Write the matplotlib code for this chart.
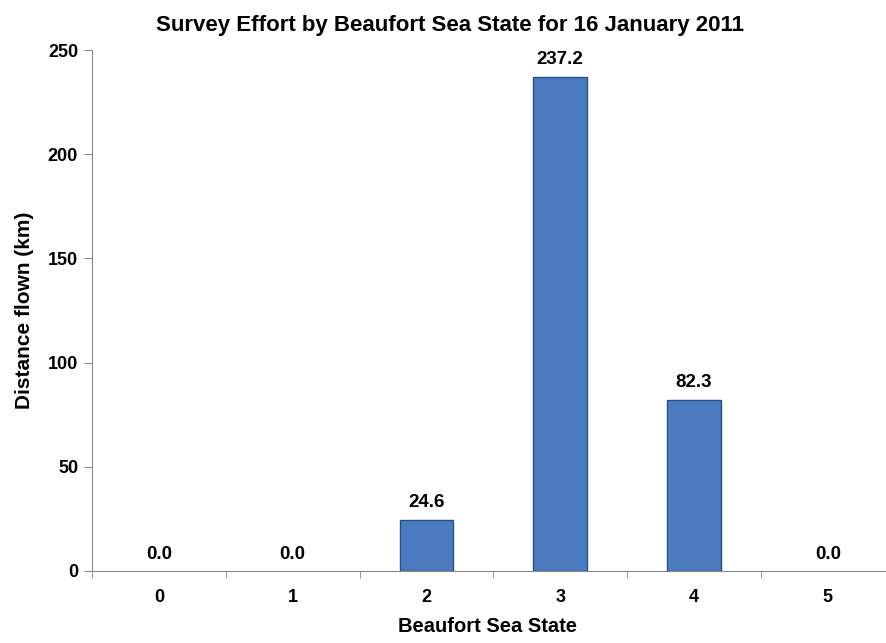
import numpy as np
import matplotlib
matplotlib.use('Agg')
import matplotlib.pyplot as plt

plt.rcParams['font.family'] = ['Liberation Sans', 'DejaVu Sans']
plt.rcParams['font.weight'] = 'bold'

states = ['0', '1', '2', '3', '4', '5']
distance = [0.0, 0.0, 24.6, 237.2, 82.3, 0.0]

fig = plt.figure(figsize=(8.86, 6.43), dpi=100)
# the original axis runs slightly past the right edge of the image
ax = fig.add_axes([0.1038, 0.112, 0.906, 0.810])

x = np.arange(len(states))
edges = ['#2b4f85' if v > 0 else 'none' for v in distance]
ax.bar(x, distance, width=0.40, color='#4a7bc1', edgecolor=edges, linewidth=1.0)
for xi, v in zip(x, distance):
    ax.text(xi, v + 4, '%.1f' % v, ha='center', va='bottom', fontsize=13.5, fontweight='bold')

ax.set_xlim(-0.5, len(states) - 0.5)
ax.set_ylim(0, 250)
ax.set_yticks([0, 50, 100, 150, 200, 250])
ax.set_xticks(x)
ax.set_xticklabels(states)
ax.set_xticks(np.arange(-0.5, len(states), 1.0), minor=True)
ax.tick_params(axis='x', which='major', length=0, pad=13, labelsize=13)
ax.tick_params(axis='x', which='minor', length=5, direction='out', color='#888888')
ax.tick_params(axis='y', length=6, direction='out', color='#888888', labelsize=13, pad=4)
for lbl in ax.get_xticklabels() + ax.get_yticklabels():
    lbl.set_fontweight('bold')

for s in ['top', 'right']:
    ax.spines[s].set_visible(False)
ax.spines['left'].set_color('#888888')
ax.spines['bottom'].set_color('#888888')

ax.set_title('Survey Effort by Beaufort Sea State for 16 January 2011', fontsize=16, fontweight='bold', pad=14, x=0.446)
ax.set_xlabel('Beaufort Sea State', fontsize=14.5, fontweight='bold', labelpad=8, x=0.493)
ax.set_ylabel('Distance flown (km)', fontsize=15, fontweight='bold', labelpad=10)

fig.savefig('out.png', dpi=100)
